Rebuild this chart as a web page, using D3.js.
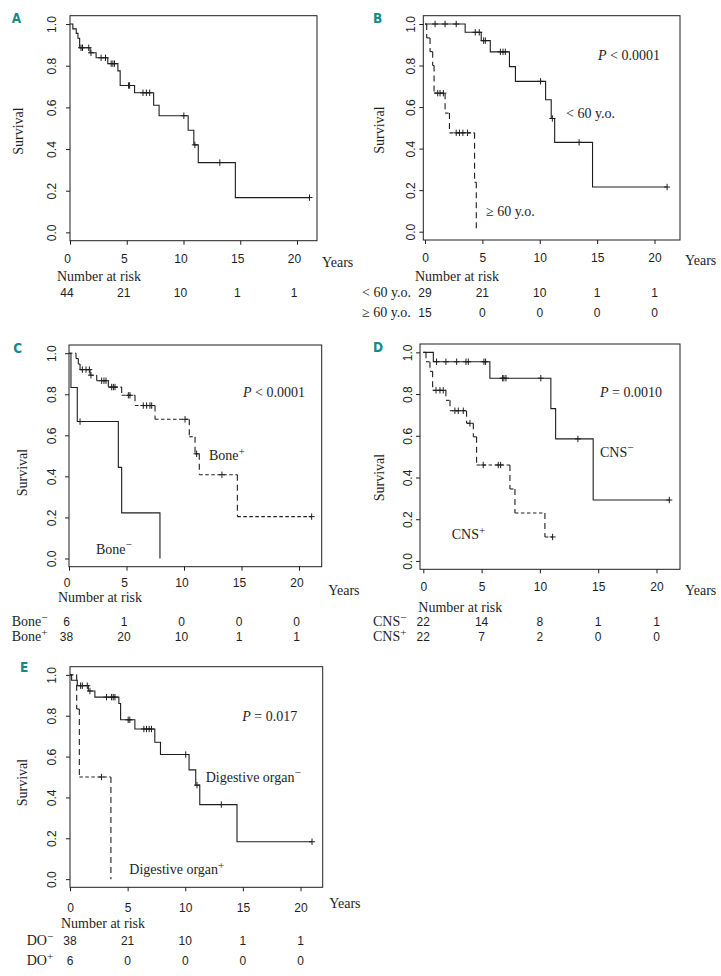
<!DOCTYPE html>
<html><head><meta charset="utf-8">
<script src="https://cdn.jsdelivr.net/npm/d3@7"></script>
<style>
body{margin:0;background:#fff;}
svg{display:block;background:#fff;}
</style></head><body>
<svg id="chart" width="721" height="976"></svg>
<script>
// ---------- shared tick values ----------
const xTicks = [0, 5, 10, 15, 20];
const yTicks = [0, 0.2, 0.4, 0.6, 0.8, 1.0];
const riskTimes = [0, 5, 10, 15, 20];

// ---------- Panel A: all patients ----------
const allTimes  = [0.25, 0.55, 0.7, 0.85, 1.77, 2.3, 3.33, 4.22, 4.42, 5.69, 7.37, 7.85, 10.41, 10.91, 11.3, 14.57];
const allSurv   = [0.977, 0.955, 0.932, 0.886, 0.862, 0.838, 0.81, 0.775, 0.705, 0.67, 0.61, 0.56, 0.49, 0.42, 0.335, 0.167];
const allCensor = [0.97, 1.1, 1.65, 1.85, 2.74, 3.13, 3.63, 3.78, 3.92, 5.16, 5.25, 6.43, 6.73, 7.02, 10.03, 11.0, 13.2, 21.1];
const allRisk   = [44, 21, 10, 1, 1];

// ---------- Panel B: age ----------
const lt60Times  = [3.5, 4.9, 5.69, 7.36, 7.88, 10.51, 11.0, 11.3, 14.6];
const lt60Surv   = [0.96, 0.92, 0.866, 0.795, 0.724, 0.635, 0.545, 0.43, 0.215];
const lt60Censor = [0.88, 1.75, 2.72, 4.38, 4.73, 5.11, 5.26, 6.57, 6.8, 7.0, 10.07, 11.1, 13.43, 21.1];
const lt60Risk   = [29, 21, 10, 1, 1];
const ge60Times  = [0.15, 0.44, 0.67, 0.79, 1.75, 2.13, 4.32, 4.47];
const ge60Surv   = [0.933, 0.867, 0.8, 0.667, 0.571, 0.476, 0.238, 0];
const ge60Censor = [1.11, 1.31, 1.6, 2.72, 3.0, 3.3, 3.7];
const ge60Risk   = [15, 0, 0, 0, 0];

// ---------- Panel C: bone ----------
const boneNegTimes  = [0.17, 0.72, 4.29, 4.58, 7.91];
const boneNegSurv   = [0.833, 0.667, 0.444, 0.222, 0];
const boneNegCensor = [0.96];
const boneNegRisk   = [6, 1, 0, 0, 0];
const bonePosTimes  = [0.61, 0.81, 0.96, 1.83, 2.41, 3.42, 4.58, 5.74, 7.48, 10.46, 10.96, 11.33, 14.64];
const bonePosSurv   = [0.974, 0.947, 0.92, 0.893, 0.866, 0.835, 0.795, 0.745, 0.678, 0.593, 0.51, 0.408, 0.204];
const bonePosCensor = [1.16, 1.48, 1.77, 1.91, 2.84, 3.04, 3.22, 3.71, 3.86, 4.0, 5.16, 5.3, 6.46, 6.75, 7.04, 7.19, 10.09, 11.1, 13.3, 21.1];
const bonePosRisk   = [38, 20, 10, 1, 1];

// ---------- Panel D: CNS ----------
const cnsNegTimes  = [0.86, 5.71, 10.94, 11.35, 14.57];
const cnsNegSurv   = [0.955, 0.876, 0.73, 0.585, 0.292];
const cnsNegCensor = [1.14, 1.94, 2.86, 3.66, 3.86, 5.2, 5.34, 6.8, 6.91, 7.09, 10.08, 13.26, 21.1];
const cnsNegRisk   = [22, 14, 8, 1, 1];
const cnsPosTimes  = [0.23, 0.57, 0.8, 1.94, 2.29, 3.71, 4.29, 4.57, 7.43, 7.86, 10.43];
const cnsPosSurv   = [0.955, 0.909, 0.818, 0.77, 0.72, 0.66, 0.595, 0.46, 0.345, 0.23, 0.115];
const cnsPosCensor = [1.09, 1.43, 1.71, 2.71, 3.0, 3.43, 4.0, 5.14, 6.43, 6.63, 11.09];
const cnsPosRisk   = [22, 7, 2, 0, 0];

// ---------- Panel E: digestive organ ----------
const doNegTimes  = [0.14, 0.63, 1.59, 2.16, 4.24, 4.39, 5.63, 7.36, 7.85, 10.33, 10.91, 11.26, 14.49];
const doNegSurv   = [0.974, 0.947, 0.921, 0.891, 0.86, 0.78, 0.735, 0.67, 0.61, 0.535, 0.46, 0.365, 0.183];
const doNegCensor = [0.92, 1.07, 1.5, 1.73, 3.17, 3.61, 3.75, 3.9, 5.05, 5.19, 6.41, 6.64, 6.87, 7.07, 10.04, 11.02, 13.13, 21.0];
const doNegRisk   = [38, 21, 10, 1, 1];
const doPosTimes  = [0.58, 0.81, 3.55];
const doPosSurv   = [0.833, 0.5, 0];
const doPosCensor = [2.74];
const doPosRisk   = [6, 0, 0, 0, 0];

// ---------- styles ----------
const INK = '#1e1e1e';
const TEAL = '#138a85';
const SERIF = "'Liberation Serif','Times New Roman',serif";
const SANS = "'Liberation Sans',Arial,sans-serif";
const COND = "'DejaVu Sans Condensed','Liberation Sans Narrow','DejaVu Sans',sans-serif";

const panels = [
  { letter:'A', lx:11.7, ly:22.7, frame:[70,15.7,317,240.7], x0:70, x20:297, dx:-3, xlab:22, ylabD:13.8,
    surv:[18,131], years:[322,266.7], nar:[57,280.7],
    curves:[{t:allTimes, s:allSurv, c:allCensor, dash:false}],
    risk:[{label:null, lx:0, y:296.7, v:allRisk}],
    notes:[] },
  { letter:'B', lx:373, ly:22.7, frame:[423.3,15.7,680,240], x0:425, x20:654.5, dx:0, xlab:21.7, ylabD:8.5,
    surv:[378.7,130], years:[685,265], nar:[415,280.7],
    curves:[{t:lt60Times, s:lt60Surv, c:lt60Censor, dash:false},{t:ge60Times, s:ge60Surv, c:ge60Censor, dash:true}],
    risk:[{label:[['< 60 y.o.']], lx:362, y:296.7, v:lt60Risk},{label:[['\u2265 60 y.o.']], lx:362, y:316.7, v:ge60Risk}],
    notes:[{x:598,y:60,parts:[['P','i'],[' < 0.0001']]},{x:566,y:118.3,parts:[['< 60 y.o.']]},{x:486,y:216,parts:[['\u2265 60 y.o.']]}] },
  { letter:'C', lx:13.3, ly:352.7, frame:[69,345,321.7,566.7], x0:69, x20:299, dx:-2.5, xlab:20, ylabD:12.8,
    surv:[22,472.5], years:[328.3,595], nar:[58,601.7],
    curves:[{t:bonePosTimes, s:bonePosSurv, c:bonePosCensor, dash:true},{t:boneNegTimes, s:boneNegSurv, c:boneNegCensor, dash:false}],
    risk:[{label:[['Bone'],['\u2212','s']], lx:11.7, y:626, v:boneNegRisk},{label:[['Bone'],['+','s']], lx:11.7, y:641.3, v:bonePosRisk}],
    notes:[{x:243,y:396.7,parts:[['P','i'],[' < 0.0001']]},{x:209,y:460,parts:[['Bone'],['+','s']]},{x:96,y:553.5,parts:[['Bone'],['\u2212','s']]}] },
  { letter:'D', lx:373, ly:351.7, frame:[420,344,680,569.3], x0:423.3, x20:656.5, dx:0, xlab:21.4, ylabD:8.5,
    surv:[378.7,477.5], years:[685,595], nar:[418.3,611.7],
    curves:[{t:cnsNegTimes, s:cnsNegSurv, c:cnsNegCensor, dash:false},{t:cnsPosTimes, s:cnsPosSurv, c:cnsPosCensor, dash:true}],
    risk:[{label:[['CNS'],['\u2212','s']], lx:373, y:626, v:cnsNegRisk},{label:[['CNS'],['+','s']], lx:373, y:641.3, v:cnsPosRisk}],
    notes:[{x:600,y:397.3,parts:[['P','i'],[' = 0.0010']]},{x:600,y:456.7,parts:[['CNS'],['\u2212','s']]},{x:451.7,y:539.3,parts:[['CNS'],['+','s']]}] },
  { letter:'E', lx:20, ly:671.7, frame:[70,666.7,322.7,887.3], x0:70, x20:300.5, dx:0, xlab:24.4, ylabD:13.8,
    surv:[22,782.5], years:[329.3,908.3], nar:[61,928.3],
    curves:[{t:doNegTimes, s:doNegSurv, c:doNegCensor, dash:false},{t:doPosTimes, s:doPosSurv, c:doPosCensor, dash:true}],
    risk:[{label:[['DO'],['\u2212','s']], lx:26.7, y:945, v:doNegRisk},{label:[['DO'],['+','s']], lx:26.7, y:965, v:doPosRisk}],
    notes:[{x:242.3,y:721,parts:[['P','i'],[' = 0.017']]},{x:205.7,y:781.7,parts:[['Digestive organ'],['\u2212','s']]},{x:129.3,y:874,parts:[['Digestive organ'],['+','s']]}] }
];

const svg = d3.select('#chart');

function richText(g, x, y, parts, size){
  const t = g.append('text').attr('x', x).attr('y', y)
    .attr('font-family', SERIF).attr('font-size', size).attr('fill', INK);
  parts.forEach(p => {
    const ts = t.append('tspan').text(p[0]);
    if (p[1] === 'i') ts.attr('font-style', 'italic');
    if (p[1] === 's') ts.attr('font-size', size * 0.8).attr('dy', -5.5);
  });
  return t;
}

function stepVal(times, surv, tt){
  let v = 1;
  times.forEach((ti, i) => { if (ti <= tt) v = surv[i]; });
  return v;
}

function drawPanel(p){
  const g = svg.append('g');
  const [fx0, fy0, fx1, fy1] = p.frame;
  const x = d3.scaleLinear().domain([0, 20]).range([p.x0, p.x20]);
  const y = d3.scaleLinear().domain([-0.04, 1.04]).range([fy1, fy0]);

  // panel letter
  g.append('text').attr('x', p.lx).attr('y', p.ly).text(p.letter)
    .attr('font-family', COND).attr('font-weight', 'bold').attr('font-size', 13.5).attr('fill', TEAL);

  // frame
  g.append('rect').attr('x', fx0).attr('y', fy0).attr('width', fx1 - fx0).attr('height', fy1 - fy0)
    .attr('fill', 'none').attr('stroke', INK).attr('stroke-width', 1);

  // x axis
  const xa = g.append('g').attr('transform', `translate(0,${fy1})`)
    .call(d3.axisBottom(x).tickValues(xTicks).tickSize(4).tickFormat(d3.format('d')));
  xa.select('.domain').remove();
  xa.attr('font-family', SANS).attr('font-size', 12);
  xa.selectAll('line').attr('stroke', INK);
  xa.selectAll('text').attr('y', p.xlab).attr('dy', 0).attr('dx', p.dx).attr('fill', INK);

  // y axis
  const ya = g.append('g').attr('transform', `translate(${fx0},0)`)
    .call(d3.axisLeft(y).tickValues(yTicks).tickSize(4).tickFormat(d3.format('.1f')));
  ya.select('.domain').remove();
  ya.attr('font-family', SANS).attr('font-size', 12);
  ya.selectAll('line').attr('stroke', INK);
  ya.selectAll('text').attr('transform', 'rotate(-90)').attr('x', 0).attr('y', -p.ylabD)
    .attr('dy', 0).attr('text-anchor', 'middle').attr('fill', INK);

  // y label
  g.append('text').attr('transform', `translate(${p.surv[0]},${p.surv[1]}) rotate(-90)`)
    .attr('x', 0).attr('y', 4.8).attr('text-anchor', 'middle')
    .attr('font-family', SERIF).attr('font-size', 14).attr('fill', INK).text('Survival');

  // Years / Number at risk
  richText(g, p.years[0], p.years[1], [['Years']], 14);
  richText(g, p.nar[0], p.nar[1], [['Number at risk']], 14);

  // curves
  p.curves.forEach(cv => {
    const pts = [[0, 1]];
    cv.t.forEach((ti, i) => pts.push([ti, cv.s[i]]));
    const lastC = cv.c.length ? d3.max(cv.c) : 0;
    const lastT = cv.t[cv.t.length - 1];
    if (lastC > lastT) pts.push([lastC, cv.s[cv.s.length - 1]]);

    if (!cv.dash) {
      g.append('path').attr('d', d3.line().x(d => x(d[0])).y(d => y(d[1])).curve(d3.curveStepAfter)(pts))
        .attr('fill', 'none').attr('stroke', INK).attr('stroke-width', 1.1);
    } else {
      const hs = [], vs = [];
      for (let i = 0; i < pts.length - 1; i++) {
        hs.push([pts[i][0], pts[i + 1][0], pts[i][1]]);
        if (pts[i + 1][1] !== pts[i][1]) vs.push([pts[i + 1][0], pts[i][1], pts[i + 1][1]]);
      }
      g.selectAll(null).data(hs).join('line')
        .attr('x1', d => x(d[0])).attr('x2', d => x(d[1])).attr('y1', d => y(d[2])).attr('y2', d => y(d[2]))
        .attr('stroke', INK).attr('stroke-width', 1.1).attr('stroke-dasharray', '3.5,2.5');
      g.selectAll(null).data(vs).join('line')
        .attr('x1', d => x(d[0])).attr('x2', d => x(d[0])).attr('y1', d => y(d[1])).attr('y2', d => y(d[2]))
        .attr('stroke', INK).attr('stroke-width', 1.1).attr('stroke-dasharray', '6,4');
    }
    // censor marks
    g.selectAll(null).data(cv.c).join('path')
      .attr('d', d => {
        const cx = x(d), cy = y(stepVal(cv.t, cv.s, d));
        return `M${cx - 3},${cy}H${cx + 3}M${cx},${cy - 3.2}V${cy + 3.2}`;
      })
      .attr('fill', 'none').attr('stroke', INK).attr('stroke-width', 1);
  });

  // annotations
  p.notes.forEach(n => richText(g, n.x, n.y, n.parts, 14));

  // number at risk table
  p.risk.forEach(row => {
    if (row.label) richText(g, row.lx, row.y, row.label, 14);
    g.selectAll(null).data(row.v).join('text')
      .attr('x', (d, i) => x(riskTimes[i]) + p.dx).attr('y', row.y)
      .attr('text-anchor', 'middle').attr('font-family', SANS).attr('font-size', 12).attr('fill', INK)
      .text(d => d);
  });
}

panels.forEach(drawPanel);
</script>
</body></html>
